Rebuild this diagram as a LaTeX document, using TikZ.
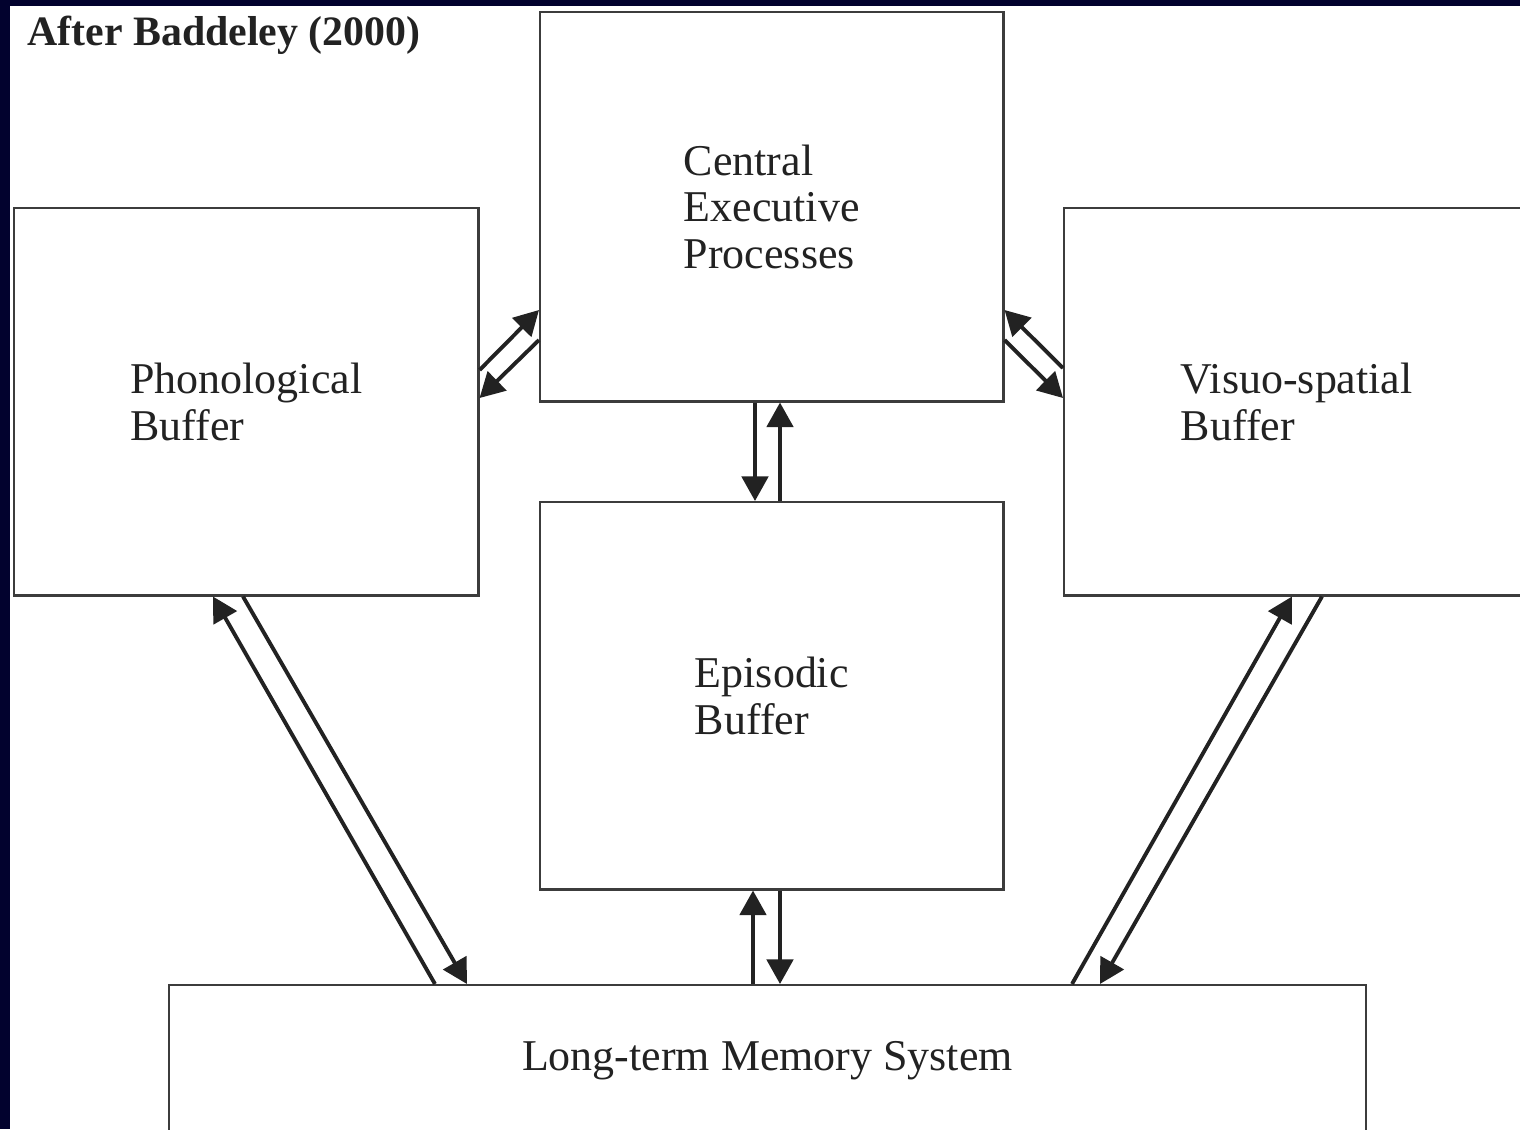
\documentclass[tikz,border=0pt]{standalone}
\usepackage{fontspec}
\setmainfont{Liberation Serif}
\usetikzlibrary{arrows.meta,calc}

\definecolor{slideblue}{RGB}{2,2,46}
\definecolor{boxgray}{RGB}{60,60,60}
\definecolor{inkgray}{RGB}{34,34,34}

\begin{document}
\begin{tikzpicture}[x=0.01cm,y=-0.01cm,
  store/.style={draw=boxgray,line width=0.65pt,fill=white,text=inkgray,
    align=left,inner sep=0pt,anchor=north west,
    font=\fontsize{12.5}{13.2}\selectfont},
  flow/.style={draw=inkgray,line width=1.1pt,-{Triangle[length=7pt,width=7.5pt]}}]

  \useasboundingbox (0,0) rectangle (1520,1129);
  \fill[slideblue] (0,0) rectangle (1520,1129);
  \fill[white] (10,6) rectangle (1520,1129);

  \node [anchor=base west,inner sep=0pt,text=inkgray,
    font=\bfseries\fontsize{11.9}{14}\selectfont] (ttl) at (27,45) {After Baddeley (2000)};

  % the stores
  \node [store,minimum width=4.63cm,minimum height=3.89cm] (ce)  at (539,11)  {Central\\Executive\\Processes};
  \node [store,minimum width=4.64cm,minimum height=3.87cm] (pho) at (13,207)  {Phonological\\Buffer};
  \node [store,minimum width=4.65cm,minimum height=3.87cm] (vis) at (1063,207) {Visuo-spatial\\Buffer};
  \node [store,minimum width=4.63cm,minimum height=3.87cm] (epi) at (539,501) {Episodic\\Buffer};
  \node [store,minimum width=11.96cm,minimum height=1.5cm] (ltm) at (168,984) {Long-term Memory System};

  % two-way links between the stores
  \draw [flow] ($(pho.north east)+(0,163)$) -- ($(ce.north west)+(0,299)$);
  \draw [flow] ($(ce.north west)+(0,329)$) -- ($(pho.north east)+(0,191)$);
  \draw [flow] ($(vis.north west)+(0,161)$) -- ($(ce.north east)+(0,299)$);
  \draw [flow] ($(ce.north east)+(0,329)$) -- ($(vis.north west)+(0,191)$);

  \draw [flow] ($(ce.south west)+(216,0)$) -- ($(epi.north west)+(216,0)$);
  \draw [flow] ($(epi.north west)+(241,0)$) -- ($(ce.south west)+(241,0)$);
  \draw [flow] ($(ltm.north west)+(585,0)$) -- ($(epi.south west)+(214,0)$);
  \draw [flow] ($(epi.south west)+(241,0)$) -- ($(ltm.north west)+(612,0)$);

  \draw [flow] ($(ltm.north west)+(267,0)$) -- ($(pho.south west)+(200,0)$);
  \draw [flow] ($(pho.south west)+(230,0)$) -- ($(ltm.north west)+(299,0)$);
  \draw [flow] ($(ltm.north west)+(904,0)$) -- ($(vis.south west)+(229,0)$);
  \draw [flow] ($(vis.south west)+(259,0)$) -- ($(ltm.north west)+(932,0)$);
\end{tikzpicture}
\end{document}
